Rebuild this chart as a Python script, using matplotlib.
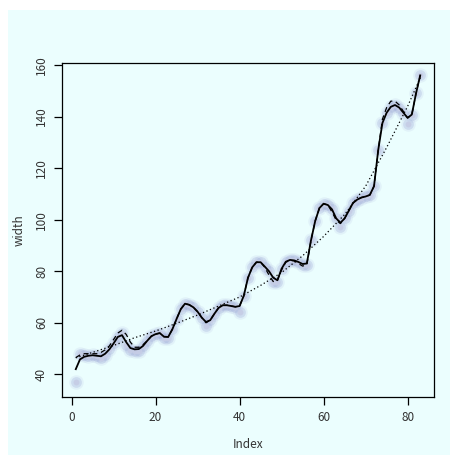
import numpy as np
import matplotlib
matplotlib.use("Agg")
import matplotlib.pyplot as plt
from matplotlib.patches import Rectangle

plt.rcParams['font.family'] = ['Noto Sans CJK JP', 'DejaVu Sans']

# observed values (points)
width = [37, 48, 47.5, 47, 47.5, 47, 46.5, 47.5, 49.7, 52, 54.5, 56, 51.5, 49.5, 49, 49,
         51, 53, 54.8, 55.6, 56, 54, 54, 57.5, 61.5, 65.3, 67.4, 67, 66, 64.3, 62, 58.7,
         61, 63.5, 65.8, 66.8, 66.8, 66.5, 66.2, 64.3, 70.5, 77.5, 81.5, 83.5, 83.5, 81.8,
         80, 76, 76, 81, 83.7, 84.4, 84.2, 83.6, 82.5, 82.5, 92, 99.5, 104.5, 106.2, 105.7,
         104, 100.5, 97.3, 100.5, 103.5, 106.5, 107.8, 108.6, 109, 109.6, 113, 127, 137.5,
         141.5, 143.8, 144.5, 143.5, 141.5, 137.2, 140.5, 149, 156]

# solid smoother
smooth_solid = [42, 45.8, 46.8, 47.2, 47.4, 47.2, 47, 48, 49.7, 52, 54.5, 55.2, 52.5,
                50.2, 49.7, 49.8, 51, 53, 54.8, 55.6, 56, 54.6, 54.5, 57.5, 61.5, 65.3,
                67.4, 67, 66, 64.3, 62, 60.3, 61, 63.5, 65.8, 66.8, 66.8, 66.5, 66.2, 66.5,
                70.5, 77.5, 81.5, 83.5, 83.5, 81.8, 80, 77.5, 76.5, 81, 83.7, 84.4, 84.2,
                83.6, 82.8, 83, 92, 99.5, 104.5, 106.2, 105.7, 104, 100.5, 98.8, 100.5,
                103.5, 106.5, 107.8, 108.6, 109, 109.6, 113, 127, 137.5, 141.5, 143.8,
                144.5, 143.5, 141.5, 139.5, 140.8, 149, 156]

# dashed smoother
smooth_dashed = [46.5, 47.5, 48, 48, 48, 48, 48.5, 49.5, 51, 53.5, 56, 57.1, 55.5, 52.5,
                 50.5, 50.5, 51.5, 53, 54.8, 55.6, 56, 54.6, 54.5, 57.5, 61.5, 65.3, 67.4,
                 67, 66, 64.3, 62, 60, 61, 63.5, 65.8, 66.8, 66.8, 66.5, 66.2, 66.5, 70.5,
                 77.5, 81.5, 83.5, 83.5, 81.5, 78.5, 76, 76.5, 80.5, 83.5, 84.2, 84, 83,
                 82, 82.5, 92, 99.5, 104.5, 106.2, 105.7, 103, 99.8, 98.5, 100.5, 103.5,
                 106.5, 107.8, 108.6, 109, 109.6, 113, 127, 139, 143.5, 146, 146, 144.5,
                 142, 139.5, 140.8, 149, 156]

# dotted (broad) smoother
dotted_x = [1, 5, 10, 15, 20, 25, 30, 35, 40, 45, 50, 55, 60, 65, 70, 75, 80, 83]
dotted_y = [46.4, 48.5, 51.2, 54.2, 56.8, 59.8, 63, 66.5, 70, 74.5, 79.5, 86, 93.5, 102,
            113, 128, 144, 155]

idx = np.arange(1, len(width) + 1)

fig = plt.figure(figsize=(4.5, 4.55), dpi=100)
fig.patch.set_facecolor('white')
bg = '#ebfefe'
fig.patches.append(Rectangle((8 / 450, 0), 1 - 8 / 450, 1 - 10 / 455,
                             transform=fig.transFigure, facecolor=bg,
                             edgecolor='none', zorder=-10))

ax = fig.add_axes([62 / 450, 1 - 397 / 455, (434 - 62) / 450, (397 - 63) / 455])
ax.set_facecolor(bg)

# blurred points
ax.scatter(idx, width, s=110, color='#aab4de', alpha=0.15, linewidths=0, zorder=2)
ax.scatter(idx, width, s=60, color='#949fd2', alpha=0.25, linewidths=0, zorder=2)
ax.scatter(idx, width, s=18, color='#c6cde6', alpha=0.9, linewidths=0, zorder=2)

ax.plot(dotted_x, dotted_y, color='black', lw=0.9, ls=(0, (1, 2)), zorder=3)
ax.plot(idx, smooth_dashed, color='black', lw=0.9, ls=(0, (4, 3)), zorder=3)
ax.plot(idx, smooth_solid, color='black', lw=1.3, zorder=4)

ax.set_xlim(-2.28, 86.28)
ax.set_ylim(31.2, 160.8)
ax.set_xticks([0, 20, 40, 60, 80])
ax.set_yticks([40, 60, 80, 100, 120, 140, 160])
ax.tick_params(length=6, width=0.9, labelsize=8.5, colors='black',
               labelcolor='#333333', pad=4)
for lab in ax.get_yticklabels():
    lab.set_rotation(90)
    lab.set_va('center')
for s in ax.spines.values():
    s.set_linewidth(0.9)

ax.set_xlabel('Index', fontsize=8.5, color='#333333', labelpad=10)
ax.set_ylabel('width', fontsize=8.5, color='#333333', labelpad=7)

fig.savefig('out.png', dpi=100, facecolor=fig.get_facecolor())
